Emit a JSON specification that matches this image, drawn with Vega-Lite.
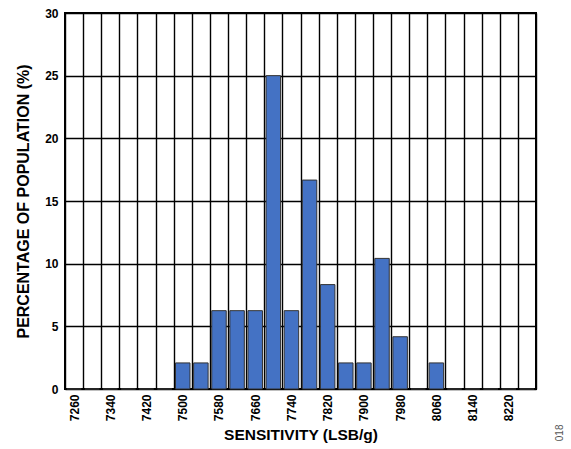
{
  "$schema": "https://vega.github.io/schema/vega-lite/v6.json",
  "autosize": "none",
  "padding": {"left": 65, "top": 13, "right": 35, "bottom": 60},
  "width": 471,
  "height": 376,
  "background": "white",
  "config": {
    "font": "Liberation Sans",
    "view": {"stroke": "black", "strokeWidth": 2}
  },
  "title": {
    "text": "018",
    "orient": "right",
    "anchor": "end",
    "frame": "bounds",
    "angle": -90,
    "align": "left",
    "baseline": "middle",
    "dx": 2,
    "fontSize": 10,
    "fontWeight": "normal",
    "color": "#555555",
    "offset": 14
  },
  "data": {
    "values": [
      {"sensitivity": 7260, "percent": 0},
      {"sensitivity": 7300, "percent": 0},
      {"sensitivity": 7340, "percent": 0},
      {"sensitivity": 7380, "percent": 0},
      {"sensitivity": 7420, "percent": 0},
      {"sensitivity": 7460, "percent": 0},
      {"sensitivity": 7500, "percent": 2.08},
      {"sensitivity": 7540, "percent": 2.08},
      {"sensitivity": 7580, "percent": 6.25},
      {"sensitivity": 7620, "percent": 6.25},
      {"sensitivity": 7660, "percent": 6.25},
      {"sensitivity": 7700, "percent": 25},
      {"sensitivity": 7740, "percent": 6.25},
      {"sensitivity": 7780, "percent": 16.67},
      {"sensitivity": 7820, "percent": 8.33},
      {"sensitivity": 7860, "percent": 2.08},
      {"sensitivity": 7900, "percent": 2.08},
      {"sensitivity": 7940, "percent": 10.42},
      {"sensitivity": 7980, "percent": 4.17},
      {"sensitivity": 8020, "percent": 0},
      {"sensitivity": 8060, "percent": 2.08},
      {"sensitivity": 8100, "percent": 0},
      {"sensitivity": 8140, "percent": 0},
      {"sensitivity": 8180, "percent": 0},
      {"sensitivity": 8220, "percent": 0},
      {"sensitivity": 8260, "percent": 0}
    ]
  },
  "mark": {
    "type": "bar",
    "fill": "#4472C4",
    "stroke": "#333333",
    "strokeWidth": 1,
    "width": {"band": 0.8}
  },
  "encoding": {
    "x": {
      "field": "sensitivity",
      "type": "ordinal",
      "sort": "ascending",
      "scale": {"paddingInner": 0, "paddingOuter": 0},
      "axis": {
        "title": "SENSITIVITY (LSB/g)",
        "titleFontSize": 15.5,
        "titleFontWeight": "bold",
        "titleColor": "black",
        "titlePadding": 7,
        "labelAngle": -90,
        "labelFontSize": 12,
        "labelFontWeight": "bold",
        "labelColor": "black",
        "labelPadding": 5,
        "labelExpr": "(datum.value - 7260) % 80 == 0 ? datum.label : ''",
        "domain": false,
        "ticks": false,
        "grid": true,
        "tickBand": "extent",
        "gridColor": "#000000",
        "gridWidth": 1.4,
        "gridOpacity": 1
      }
    },
    "y": {
      "field": "percent",
      "type": "quantitative",
      "scale": {"domain": [0, 30]},
      "axis": {
        "title": "PERCENTAGE OF POPULATION (%)",
        "titleFontSize": 16,
        "titleFontWeight": "bold",
        "titleColor": "black",
        "titlePadding": 13,
        "values": [0, 5, 10, 15, 20, 25, 30],
        "labelFontSize": 12,
        "labelFontWeight": "bold",
        "labelColor": "black",
        "labelPadding": 7,
        "domain": false,
        "ticks": false,
        "grid": true,
        "gridColor": "#000000",
        "gridWidth": 1.4,
        "gridOpacity": 1
      }
    }
  }
}
